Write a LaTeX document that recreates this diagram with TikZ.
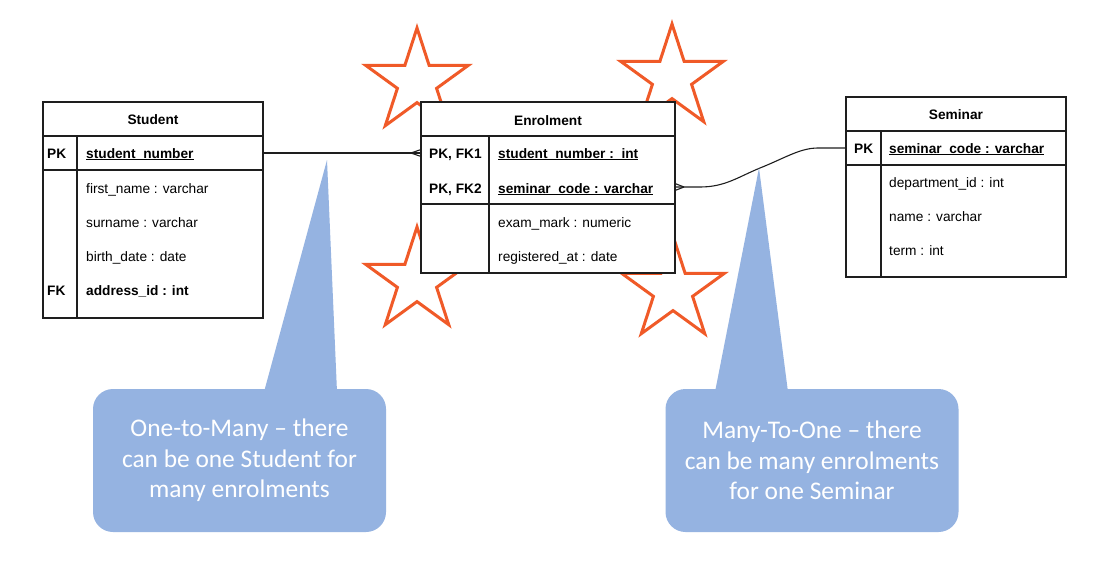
\documentclass[tikz,border=0pt]{standalone}
\usepackage{fontspec}
\setmainfont{Liberation Sans}
\newfontfamily\callfont{Carlito}
\definecolor{starorange}{RGB}{240,90,40}
\definecolor{calloutblue}{RGB}{149,179,225}
\definecolor{tblline}{RGB}{30,30,30}
\newcommand\myul[1]{\setbox0=\hbox{#1}\rlap{\rule[-2.3pt]{\wd0}{1pt}}\box0}
\tikzset{
  box/.style={draw=tblline, line width=1.2pt, fill=white, inner sep=0pt, outer sep=0pt, anchor=north west},
  tline/.style={draw=tblline, line width=1.2pt},
  hdr/.style={font=\bfseries\fontsize{13.7}{16}\selectfont, inner sep=0pt, anchor=base},
  fld/.style={font=\fontsize{13.7}{16}\selectfont, inner sep=0pt, anchor=base west},
  keyf/.style={font=\bfseries\fontsize{13.7}{16}\selectfont, inner sep=0pt, anchor=base west},
  starline/.style={draw=starorange, line width=3pt, fill=white, line join=miter},
  conn/.style={draw=tblline, line width=1.1pt},
  callbox/.style={fill=calloutblue, rounded corners=20pt, minimum width=293pt, minimum height=143pt,
    inner sep=0pt, align=center, text=white, font=\callfont\fontsize{25.4}{30.5}\selectfont},
}
\newcommand\drawstar[3]{% cx, cy, name
  \draw[starline] (#1,#2) +(-90:54) -- +(-54:20.6) -- +(-18:54) -- +(18:20.6) -- +(54:54)
    -- +(90:20.6) -- +(126:54) -- +(162:20.6) -- +(198:54) -- +(234:20.6) -- cycle;
  \coordinate (#3) at (#1,#2);}
\begin{document}
\begin{tikzpicture}[x=1pt,y=-1pt]
\useasboundingbox (0,0) rectangle (1107,562);
\fill[white] (0,0) rectangle (1107,562);

% stars (behind tables)
\drawstar{417}{82}{st1}
\drawstar{672}{78}{st2}
\drawstar{417}{281}{st3}
\drawstar{673}{290}{st4}

% Student table
\node[box, minimum width=220pt, minimum height=34pt] (s-h) at (43,102) {};
\node[box, minimum width=220pt, minimum height=34pt] (s-k) at (43,136) {};
\node[box, minimum width=220pt, minimum height=148pt] (s-b) at (43,170) {};
\draw[tline] ([xshift=34pt]s-k.north west) -- ([xshift=34pt]s-b.south west);
\node[hdr] (s-title) at (153,124) {Student};
\node[keyf] (s-pk) at (47,158) {PK};
\node[keyf] (s-f0) at (86,158) {\myul{student\_number}};
\node[fld] (s-f1) at (86,193) {first\_name : varchar};
\node[fld] (s-f2) at (86,227) {surname : varchar};
\node[fld] (s-f3) at (86,261) {birth\_date : date};
\node[keyf] (s-fk) at (47,295) {FK};
\node[keyf] (s-f4) at (86,295) {address\_id : int};

% Enrolment table
\node[box, minimum width=254pt, minimum height=34pt] (e-h) at (421,102) {};
\node[box, minimum width=254pt, minimum height=68pt] (e-k) at (421,136) {};
\node[box, minimum width=254pt, minimum height=69pt] (e-b) at (421,204) {};
\draw[tline] ([xshift=68pt]e-k.north west) -- ([xshift=68pt]e-b.south west);
\node[hdr] (e-title) at (548,125) {Enrolment};
\node[keyf] (e-pk1) at (429,158) {PK, FK1};
\node[keyf] (e-f1) at (498,158) {\myul{student\_number :\ \ int}};
\node[keyf] (e-pk2) at (429,193) {PK, FK2};
\node[keyf] (e-f2) at (498,193) {\myul{seminar\_code : varchar}};
\node[fld] (e-f3) at (498,227) {exam\_mark : numeric};
\node[fld] (e-f4) at (498,261) {registered\_at : date};

% Seminar table
\node[box, minimum width=220pt, minimum height=34pt] (m-h) at (846,97) {};
\node[box, minimum width=220pt, minimum height=34pt] (m-k) at (846,131) {};
\node[box, minimum width=220pt, minimum height=112pt] (m-b) at (846,165) {};
\draw[tline] ([xshift=35pt]m-k.north west) -- ([xshift=35pt]m-b.south west);
\node[hdr] (m-title) at (956,119) {Seminar};
\node[keyf] (m-pk) at (854,153) {PK};
\node[keyf] (m-f0) at (889,153) {\myul{seminar\_code : varchar}};
\node[fld] (m-f1) at (889,187) {department\_id : int};
\node[fld] (m-f2) at (889,221) {name : varchar};
\node[fld] (m-f3) at (889,255) {term : int};

% connectors
\coordinate (e1) at ([yshift=17pt]e-k.west);
\coordinate (e2) at ([yshift=-17pt]e-k.east);
\draw[conn] (s-k.east) -- (e1);
\draw[conn] ([xshift=-10pt]e1) -- ([yshift=3.5pt]e1);
\draw[conn] ([xshift=-10pt]e1) -- ([yshift=-3.5pt]e1);
\draw[conn] (e2) -- ([xshift=25pt]e2) .. controls ([xshift=50pt]e2) and (738,177) .. (760,168)
  .. controls (785,158) and (800,148) .. ([xshift=-28pt]m-k.west) -- (m-k.west);
\draw[conn] ([xshift=9pt]e2) -- ([yshift=3.5pt]e2);
\draw[conn] ([xshift=9pt]e2) -- ([yshift=-3.5pt]e2);

% callouts
\coordinate (t1) at (327,160);
\coordinate (t2) at (759,168);
\node[callbox] (c1) at (239.5,460.5) {One-to-Many – there\\can be one Student for\\many enrolments};
\fill[calloutblue] (264,392) -- (t1) -- (337,392) -- cycle;
\node[callbox] (c2) at (812,460.5) {Many-To-One – there\\can be many enrolments\\for one Seminar};
\fill[calloutblue] (715,392) -- (t2) -- (788,392) -- cycle;
\end{tikzpicture}
\end{document}
